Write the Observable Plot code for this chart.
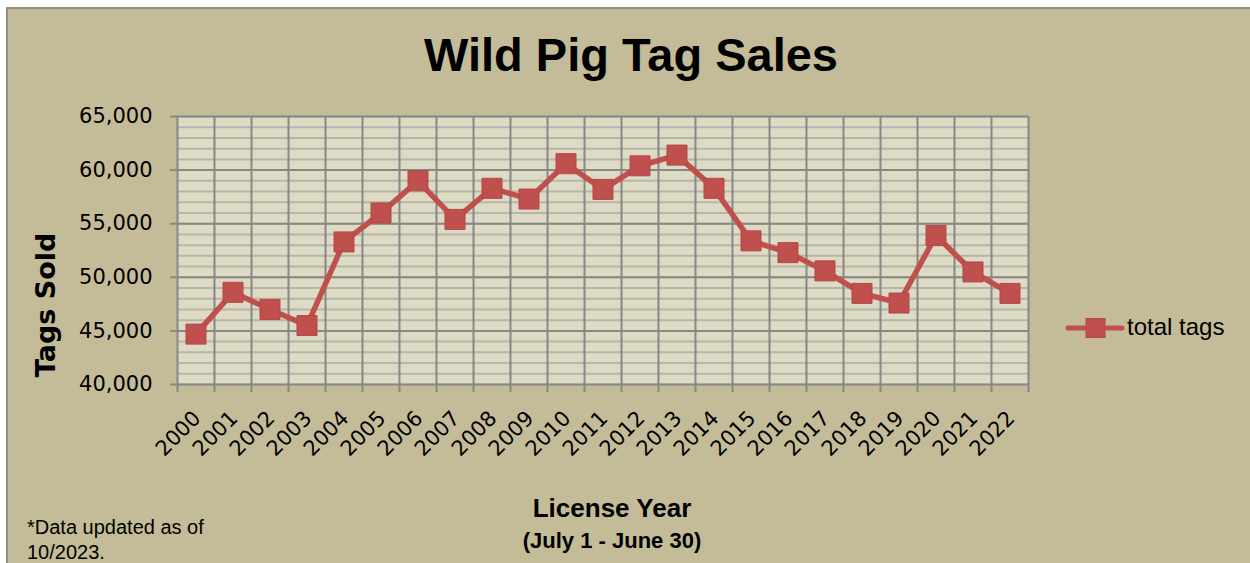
<!DOCTYPE html>
<html>
<head>
<meta charset="utf-8">
<script src="https://cdn.jsdelivr.net/npm/d3@7"></script>
<script src="https://cdn.jsdelivr.net/npm/@observablehq/plot@0.6"></script>
<style>
  html, body { margin: 0; padding: 0; background: #ffffff; width: 1250px; height: 563px; overflow: hidden; }
  #panel { position: absolute; left: 6px; top: 7px; right: 0; bottom: 0; background: #C4BC98;
           border-left: 2px solid #8f8f8f; border-top: 2px solid #8f8f8f; }
  #chart { position: absolute; left: 0; top: 0; width: 1250px; height: 563px; }
  #overlay { position: absolute; left: 0; top: 0; }
</style>
</head>
<body>
<div id="panel"></div>
<div id="chart"></div>
<svg id="overlay" width="1250" height="563"></svg>
<script>
// ---- data ----
const years = [2000, 2001, 2002, 2003, 2004, 2005, 2006, 2007, 2008, 2009, 2010, 2011,
               2012, 2013, 2014, 2015, 2016, 2017, 2018, 2019, 2020, 2021, 2022];
const tags = [44700, 48600, 47000, 45500, 53300, 56000, 59000, 55400, 58300, 57300, 60600, 58200,
              60400, 61400, 58300, 53400, 52300, 50600, 48500, 47600, 53900, 50500, 48500];
const yTicks = [40000, 45000, 50000, 55000, 60000, 65000];
const minorStep = 1000;
const seriesName = "total tags";
const titleText = "Wild Pig Tag Sales";
const yTitle = "Tags Sold";
const xTitle = "License Year";
const xSubtitle = "(July 1 - June 30)";
const noteLines = ["*Data updated as of", "10/2023."];

const data = years.map((y, i) => ({year: y, tags: tags[i]}));
const boundaries = years.map(y => y - 0.5).concat([years[years.length - 1] + 0.5]);
const minorTicks = d3.range(yTicks[0], yTicks[yTicks.length - 1] + 1, minorStep);

const RED = "#C0504D";
const GRID = "#878787";

const chart = Plot.plot({
  width: 1250,
  height: 563,
  marginTop: 116,
  marginLeft: 177,
  marginRight: 222,
  marginBottom: 179,
  style: {background: "transparent", overflow: "visible"},
  x: {type: "linear", domain: [boundaries[0], boundaries[boundaries.length - 1]]},
  y: {type: "linear", domain: [yTicks[0], yTicks[yTicks.length - 1]]},
  marks: [
    Plot.frame({fill: "#DEDBC4", stroke: null}),
    Plot.ruleY(minorTicks, {stroke: "#B6B4AB", strokeWidth: 2}),
    Plot.ruleY(yTicks, {stroke: GRID, strokeWidth: 2}),
    Plot.ruleX(boundaries, {stroke: GRID, strokeWidth: 2}),
    Plot.axisY({ticks: yTicks, tickSize: 7, tickFormat: () => "", label: null, stroke: GRID, strokeWidth: 2}),
    Plot.axisX({ticks: boundaries, tickSize: 8, tickFormat: () => "", label: null, stroke: GRID, strokeWidth: 2}),
    Plot.text(yTicks, {
      y: d => d, frameAnchor: "left", text: d => d3.format(",")(d),
      textAnchor: "end", lineAnchor: "middle", dx: -25,
      fontSize: 21, fontFamily: "DejaVu Sans", fill: "#000"
    }),
    Plot.text(years, {
      x: d => d, frameAnchor: "bottom", text: d => String(d),
      rotate: -45, textAnchor: "end", lineAnchor: "bottom", dx: 6, dy: 35,
      fontSize: 21, fontFamily: "DejaVu Sans", fill: "#000"
    }),
    Plot.line(data, {x: "year", y: "tags", stroke: RED, strokeWidth: 5.5}),
    Plot.dot(data, {x: "year", y: "tags", symbol: "square", r: 11.3, fill: RED, stroke: "#B5474A", strokeWidth: 1})
  ]
});
document.getElementById("chart").appendChild(chart);

// ---- titles, legend, note ----
const ov = d3.select("#overlay");
ov.append("text").attr("x", 631).attr("y", 71).attr("text-anchor", "middle")
  .attr("font-family", "Liberation Sans, Arial, sans-serif").attr("font-weight", "bold")
  .attr("font-size", 47).attr("fill", "#000").text(titleText);
ov.append("text").attr("transform", "translate(55,305) rotate(-90)").attr("text-anchor", "middle")
  .attr("font-family", "DejaVu Sans, sans-serif").attr("font-weight", "bold")
  .attr("font-size", 27).attr("fill", "#000").text(yTitle);
ov.append("text").attr("x", 612).attr("y", 517).attr("text-anchor", "middle")
  .attr("font-family", "Liberation Sans, Arial, sans-serif").attr("font-weight", "bold")
  .attr("font-size", 26).attr("fill", "#000").text(xTitle);
ov.append("text").attr("x", 612).attr("y", 548).attr("text-anchor", "middle")
  .attr("font-family", "Liberation Sans, Arial, sans-serif").attr("font-weight", "bold")
  .attr("font-size", 22).attr("fill", "#000").text(xSubtitle);
noteLines.forEach((t, i) => {
  ov.append("text").attr("x", 27).attr("y", 534 + i * 25)
    .attr("font-family", "Liberation Sans, Arial, sans-serif")
    .attr("font-size", 20).attr("fill", "#000").text(t);
});
// legend
const lg = ov.append("g");
lg.append("line").attr("x1", 1068).attr("x2", 1122).attr("y1", 328).attr("y2", 328)
  .attr("stroke", RED).attr("stroke-width", 5).attr("stroke-linecap", "round");
lg.append("rect").attr("x", 1086).attr("y", 318.5).attr("width", 19).attr("height", 19)
  .attr("fill", RED).attr("stroke", "#B5474A").attr("stroke-width", 1);
lg.append("text").attr("x", 1127).attr("y", 335)
  .attr("font-family", "Liberation Sans, Arial, sans-serif")
  .attr("font-size", 24).attr("fill", "#000").text(seriesName);
</script>
</body>
</html>
